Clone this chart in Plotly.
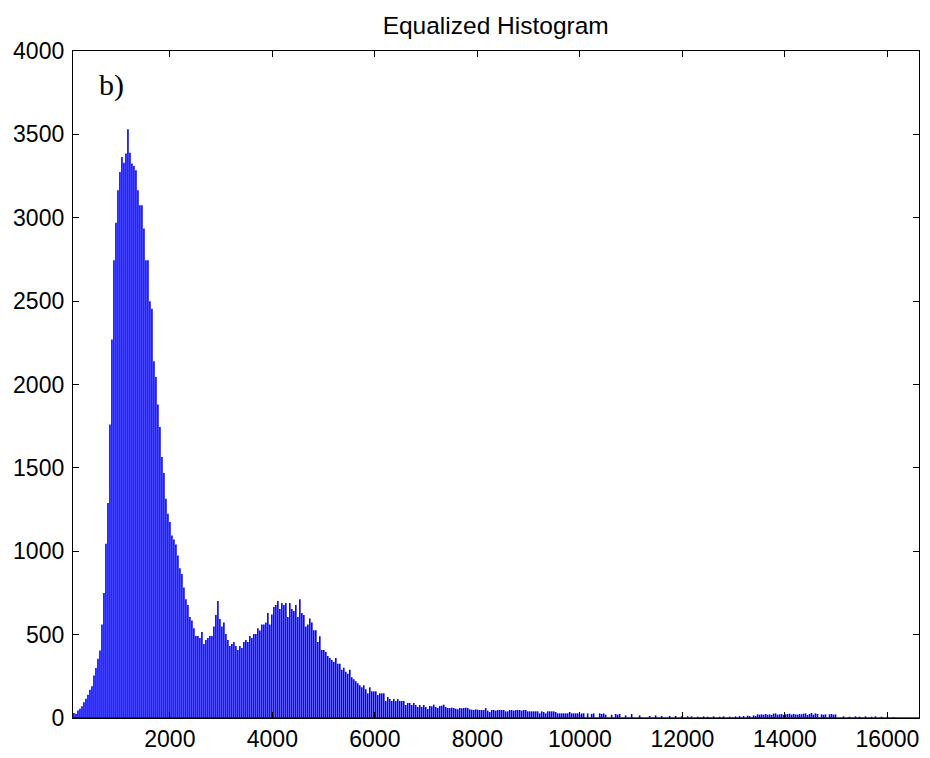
import plotly.graph_objects as go

# Histogram of the equalized image: first bin centre, bin spacing and counts
bin_start = 129
bin_step = 39
counts = [
    30, 25, 45, 55, 70, 95, 115, 140, 170, 190,
    255, 300, 355, 405, 560, 750, 1045, 1290, 1760, 2270,
    2745, 2970, 3165, 3275, 3365, 3330, 3385, 3530, 3390, 3325,
    3310, 3285, 3165, 3075, 3075, 2935, 2745, 2745, 2500, 2455,
    2140, 2045, 1880, 1745, 1565, 1470, 1315, 1225, 1175, 1095,
    1070, 1040, 975, 898, 864, 782, 712, 678, 606, 584,
    538, 492, 492, 480, 516, 444, 468, 480, 492, 492,
    548, 618, 702, 594, 548, 572, 504, 468, 432, 444,
    456, 432, 408, 432, 420, 456, 468, 456, 492, 480,
    504, 504, 538, 524, 560, 560, 572, 630, 560, 620,
    666, 678, 702, 654, 690, 678, 690, 606, 690, 654,
    642, 678, 606, 712, 630, 618, 548, 560, 596, 572,
    526, 526, 456, 490, 408, 408, 396, 372, 360, 348,
    336, 360, 326, 326, 290, 302, 278, 266, 290, 244,
    232, 220, 208, 196, 184, 196, 172, 148, 184, 160,
    160, 160, 138, 148, 148, 148, 102, 126, 114, 102,
    114, 102, 114, 102, 102, 102, 78, 90, 90, 78,
    90, 78, 66, 78, 66, 78, 66, 54, 72, 70,
    80, 66, 60, 72, 74, 80, 66, 60, 60, 62,
    60, 56, 52, 60, 58, 60, 62, 60, 52, 50,
    48, 52, 50, 48, 48, 48, 60, 44, 36, 48,
    48, 44, 48, 48, 48, 48, 40, 40, 48, 48,
    44, 48, 48, 48, 44, 48, 48, 40, 40, 40,
    40, 40, 40, 28, 40, 36, 28, 40, 40, 40,
    40, 36, 28, 28, 28, 28, 28, 28, 36, 28,
    28, 28, 28, 20, 28, 28, 0, 28, 0, 24,
    28, 0, 0, 28, 24, 28, 20, 0, 0, 20,
    0, 24, 20, 24, 0, 0, 16, 0, 0, 24,
    0, 0, 0, 16, 0, 0, 0, 0, 12, 0,
    0, 16, 0, 0, 12, 0, 0, 0, 12, 0,
    0, 12, 0, 0, 10, 0, 0, 10, 0, 10,
    0, 0, 8, 0, 0, 10, 0, 8, 0, 0,
    10, 0, 0, 8, 0, 10, 0, 0, 8, 0,
    0, 10, 0, 12, 0, 12, 0, 14, 12, 0,
    16, 12, 22, 20, 22, 20, 24, 20, 22, 18,
    26, 28, 20, 22, 24, 18, 22, 24, 26, 20,
    24, 22, 20, 24, 22, 26, 28, 18, 24, 30,
    20, 28, 24, 0, 22, 20, 22, 0, 22, 24,
    20, 22, 0, 0, 0, 10, 0, 0, 8, 0,
    0, 10, 0, 8, 0, 0, 10, 0, 0, 8,
    0, 10, 0, 0, 8, 0, 0, 8, 0, 0,
    6, 0, 0, 0, 0, 0, 0, 0, 0, 0,
    0, 0, 0,
]
bin_centres = [bin_start + bin_step * k for k in range(len(counts))]

x_range = [110, 16617]
y_range = [0, 4000]
x_ticks = [2000, 4000, 6000, 8000, 10000, 12000, 14000, 16000]
y_ticks = [0, 500, 1000, 1500, 2000, 2500, 3000, 3500, 4000]

BLUE = "rgb(0,0,255)"
FONT = "Liberation Sans, Arial, sans-serif"

# thin vertical bars drawn as stems from zero up to each count
stem_x, stem_y = [], []
for c, v in zip(bin_centres, counts):
    stem_x += [c, c, None]
    stem_y += [0, v, None]

fig = go.Figure(
    go.Scatter(
        x=stem_x, y=stem_y, mode="lines",
        line=dict(color=BLUE, width=1.6),
        hoverinfo="skip",
    )
)

# bar baseline
fig.add_shape(
    type="line", xref="paper", yref="y", x0=0, x1=1, y0=0, y1=0,
    line=dict(color=BLUE, width=1.5), layer="above",
)

axis_common = dict(
    showline=True, linecolor="black", linewidth=1.3,
    mirror="ticks", ticks="inside", ticklen=6, tickwidth=1, tickcolor="black",
    showgrid=False, zeroline=False, automargin=False,
    tickfont=dict(family=FONT, size=23, color="black"),
)

fig.update_layout(
    width=930, height=758,
    margin=dict(l=73, r=11, t=51, b=40, autoexpand=False),
    paper_bgcolor="white", plot_bgcolor="white",
    showlegend=False,
    title=dict(
        text="Equalized Histogram",
        x=0.533, xanchor="center", y=0.967, yanchor="middle",
        font=dict(family=FONT, size=24.5, color="black"),
    ),
    xaxis=dict(range=x_range, tickvals=x_ticks,
               ticktext=[str(t) for t in x_ticks], **axis_common),
    yaxis=dict(range=y_range, tickvals=y_ticks,
               ticktext=[str(t) for t in y_ticks], ticklabelstandoff=3, **axis_common),
    annotations=[
        dict(
            text="b)", xref="paper", yref="paper", x=0.028, y=0.978,
            xanchor="left", yanchor="top", showarrow=False,
            font=dict(family="Liberation Serif, Times New Roman, serif", size=30, color="black"),
        )
    ],
)

fig.write_html("out.html")
